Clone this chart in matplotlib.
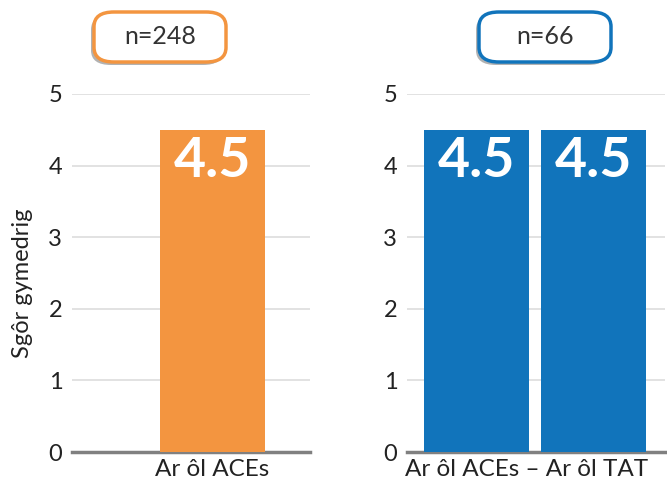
import matplotlib.pyplot as plt
from matplotlib.patches import FancyBboxPatch

plt.rcParams['font.family'] = ['Lato', 'DejaVu Sans']

# data
left_labels = ['Ar ôl ACEs']
left_values = [4.5]
left_n = 'n=248'
right_values = [4.5, 4.5]
right_label = 'Ar ôl ACEs – Ar ôl TAT'
right_n = 'n=66'
y_ticks = [0, 1, 2, 3, 4, 5]
y_title = 'Sgôr gymedrig'

orange = '#f39540'
blue = '#1174bb'
text_col = '#222222'

fig = plt.figure(figsize=(6.67, 4.86), dpi=100)
W, H = 667.0, 486.0


def make_ax(x0, x1):
    ax = fig.add_axes([x0 / W, (H - 452) / H, (x1 - x0) / W, (452 - 94) / H])
    ax.set_ylim(0, 5)
    ax.set_yticks(y_ticks)
    ax.yaxis.grid(True, color='#dddddd', linewidth=1.2)
    ax.set_axisbelow(True)
    for s in ['top', 'right', 'left']:
        ax.spines[s].set_visible(False)
    ax.spines['bottom'].set_color('#808080')
    ax.spines['bottom'].set_linewidth(2.5)
    ax.tick_params(axis='y', length=0, labelsize=17, labelcolor=text_col, pad=7)
    ax.tick_params(axis='x', length=0, labelsize=17.5, labelcolor=text_col, pad=5)
    return ax


ax1 = make_ax(72, 310)
ax1.bar([0], left_values, width=1.0, color=orange, zorder=3)
ax1.set_xlim(-1.338, 0.929)
ax1.set_xticks([0])
ax1.set_xticklabels(left_labels)
ax1.set_ylabel(y_title, fontsize=17, color=text_col)
ax1.yaxis.set_label_coords(-0.165, 0.47)
for x, v in zip([0], left_values):
    ax1.text(x, v - 0.08, '%.1f' % v, ha='center', va='top', color='white',
             fontsize=40, fontweight='bold', zorder=4)

ax2 = make_ax(407, 665)
xs = list(range(len(right_values)))
ax2.bar(xs, right_values, width=0.897, color=blue, zorder=3)
ax2.set_xlim(-0.594, 1.611)
ax2.set_xticks([0.43])
ax2.set_xticklabels([right_label])
for x, v in zip(xs, right_values):
    ax2.text(x, v - 0.08, '%.1f' % v, ha='center', va='top', color='white',
             fontsize=40, fontweight='bold', zorder=4)


def n_box(cx, txt, edge):
    w, h = 132 / W, 50 / H
    x0, y0 = cx / W - w / 2, (H - 62) / H
    shadow = FancyBboxPatch((x0 - 3 / W, y0 - 3 / H), w, h,
                            boxstyle='round,pad=0,rounding_size=0.03',
                            transform=fig.transFigure, facecolor='#555555',
                            edgecolor='none', alpha=0.45, zorder=1)
    fig.patches.append(shadow)
    box = FancyBboxPatch((x0, y0), w, h,
                         boxstyle='round,pad=0,rounding_size=0.03',
                         transform=fig.transFigure, facecolor='white',
                         edgecolor=edge, linewidth=2.5, zorder=2)
    fig.patches.append(box)
    fig.text(cx / W, y0 + h / 2, txt, ha='center', va='center',
             fontsize=18, color='#333333', zorder=3)


n_box(160, left_n, orange)
n_box(545, right_n, blue)

fig.savefig('out.png', dpi=100)
